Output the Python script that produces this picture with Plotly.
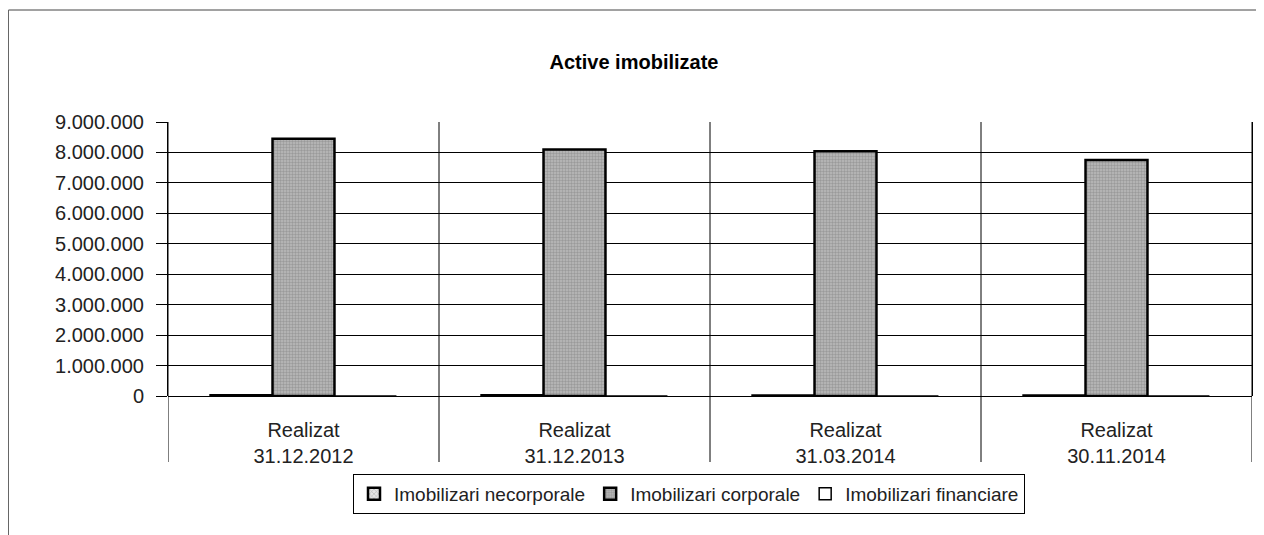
import plotly.graph_objects as go

categories = ["Realizat<br>31.12.2012", "Realizat<br>31.12.2013",
              "Realizat<br>31.03.2014", "Realizat<br>30.11.2014"]
necorporale = [25000, 22000, 20000, 18000]
corporale = [8450000, 8100000, 8040000, 7750000]
financiare = [0, 0, 0, 0]
series_names = ["Imobilizari necorporale", "Imobilizari corporale", "Imobilizari financiare"]
y_tickvals = [0, 1000000, 2000000, 3000000, 4000000, 5000000, 6000000, 7000000, 8000000, 9000000]
y_ticktext = ["0", "1.000.000", "2.000.000", "3.000.000", "4.000.000", "5.000.000",
              "6.000.000", "7.000.000", "8.000.000", "9.000.000"]

FONT = "Liberation Sans, Arial, sans-serif"
OFF = 8  # page body margin in the browser
FW, FH = 1264 - OFF, 535 - OFF

fig = go.Figure()
fig.add_trace(go.Bar(
    x=categories, y=necorporale, name=series_names[0],
    marker=dict(color="#e6e6e6", line=dict(color="black", width=2.5),
                pattern=dict(shape="x", fgcolor="#777", size=4, solidity=0.3)),
))
fig.add_trace(go.Bar(
    x=categories, y=corporale, name=series_names[1],
    marker=dict(color="#b4b4b4", line=dict(color="black", width=2.5),
                pattern=dict(shape=".", fgcolor="#7a7a7a", bgcolor="#bababa", size=3, solidity=0.5)),
))
fig.add_trace(go.Bar(
    x=categories, y=financiare, name=series_names[2],
    marker=dict(color="white", line=dict(color="black", width=1.5)),
))

# plot area geometry in screen pixels
SL, SR, ST, SB = 168, 1252, 122, 396
L = SL - OFF
T = ST - OFF
R = FW - (SR - OFF)
B = FH - (SB - OFF)
W = SR - SL
H = SB - ST

def px_x(sx):
    return (sx - SL) / W

def px_y(sy):
    return (SB - sy) / H

shapes = []
for xb in [-0.5, 0.5, 1.5, 2.5, 3.5]:
    shapes.append(dict(type="line", xref="x", yref="paper", x0=xb, x1=xb,
                       y0=1, y1=px_y(462), line=dict(color="black", width=1)))
shapes.append(dict(type="line", xref="paper", yref="paper", x0=px_x(8.5), x1=px_x(1264),
                   y0=px_y(10), y1=px_y(10), line=dict(color="#444", width=1)))
shapes.append(dict(type="line", xref="paper", yref="paper", x0=px_x(8.5), x1=px_x(8.5),
                   y0=px_y(10), y1=px_y(535), line=dict(color="#666", width=1)))

fig.update_layout(
    width=FW, height=FH,
    margin=dict(l=L, r=R, t=T, b=B),
    paper_bgcolor="white", plot_bgcolor="white",
    font=dict(family=FONT, color="#222"),
    barmode="group", bargap=0.314, bargroupgap=0,
    title=dict(text="<b>Active imobilizate</b>", xref="container", yref="container",
               x=(634 - OFF) / FW, y=1 - (62 - OFF) / FH, xanchor="center", yanchor="middle",
               font=dict(size=20, family=FONT, color="black")),
    showlegend=True,
    legend=dict(orientation="h", x=px_x(689), xanchor="center", y=px_y(474), yanchor="top",
                bordercolor="black", borderwidth=1, bgcolor="white",
                font=dict(size=19, family=FONT, color="#222"),
                itemwidth=30, tracegroupgap=0),
    shapes=shapes,
)
fig.update_xaxes(range=[-0.5, 3.5], showgrid=False, ticks="", showline=False,
                 tickfont=dict(size=20, family=FONT, color="#222"),
                 ticklabelstandoff=20)
fig.update_yaxes(range=[0, 9000000], tickvals=y_tickvals, ticktext=y_ticktext,
                 showgrid=True, gridcolor="black", gridwidth=1,
                 ticks="outside", ticklen=11, tickcolor="black",
                 showline=True, linecolor="black", linewidth=1,
                 zeroline=True, zerolinecolor="black", zerolinewidth=1,
                 tickfont=dict(size=20, family=FONT, color="#222"),
                 ticklabelstandoff=8, mirror=True)

fig.write_html("out.html")
